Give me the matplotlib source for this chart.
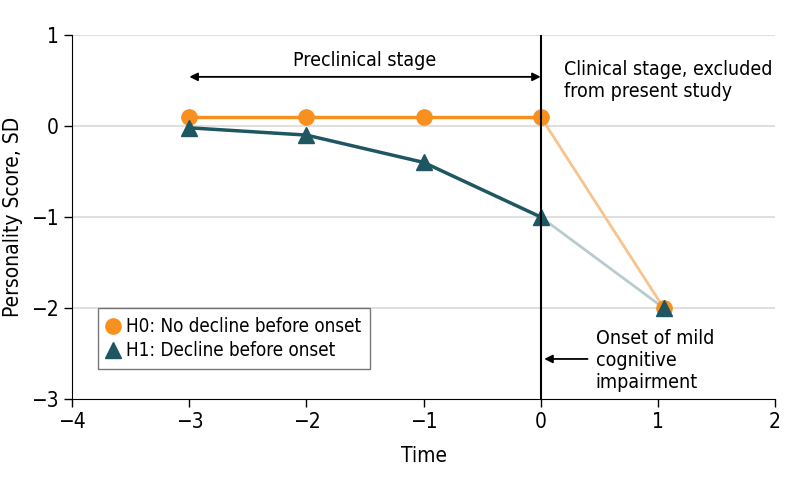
import matplotlib
matplotlib.use('Agg')
from matplotlib import pyplot as plt

plt.rcParams['font.family'] = ['DejaVu Sans']
plt.rcParams['font.stretch'] = 'condensed'

TIME_PRE = [-3, -2, -1, 0]
H0_PRE = [0.1, 0.1, 0.1, 0.1]
H1_PRE = [-0.02, -0.1, -0.4, -1.0]
TIME_POST = [0, 1.05]
H0_POST = [0.1, -2.0]
H1_POST = [-1.0, -2.0]

ORANGE = '#F7901E'
TEAL = '#1E5762'
ORANGE_LT = '#F8C38C'
TEAL_LT = '#B9CBCE'

fig = plt.figure(figsize=(7.94, 4.86), dpi=100)
ax = fig.add_axes([0.091, 0.179, 0.885, 0.749])

for y in [1, 0, -1, -2]:
    ax.axhline(y, color='#d9d9d9', lw=1.2, zorder=0)

ax.plot(TIME_POST, H0_POST, color=ORANGE_LT, lw=2, zorder=2)
ax.plot(TIME_POST, H1_POST, color=TEAL_LT, lw=2, zorder=2)
ax.plot(TIME_POST[1:], H0_POST[1:], 'o', color=ORANGE, ms=11, zorder=3)
ax.plot(TIME_POST[1:], H1_POST[1:], '^', color=TEAL, ms=11, zorder=4)

ax.plot(TIME_PRE, H0_PRE, color=ORANGE, lw=2.5, marker='o', ms=11,
        label='H0: No decline before onset', zorder=3)
ax.plot(TIME_PRE, H1_PRE, color=TEAL, lw=2.5, marker='^', ms=11,
        label='H1: Decline before onset', zorder=4)

ax.axvline(0, color='black', lw=1.5, zorder=5)

ax.annotate('', xy=(-3, 0.54), xytext=(0, 0.54),
            arrowprops=dict(arrowstyle='<|-|>', color='black', lw=1.3,
                            mutation_scale=12, shrinkA=0, shrinkB=0))
ax.text(-1.5, 0.72, 'Preclinical stage', ha='center', va='center', fontsize=14)
ax.text(0.2, 0.5, 'Clinical stage, excluded\nfrom present study',
        ha='left', va='center', fontsize=14, linespacing=1.25)
ax.annotate('', xy=(0.03, -2.56), xytext=(0.4, -2.56),
            arrowprops=dict(arrowstyle='-|>', color='black', lw=1.3,
                            mutation_scale=12, shrinkA=0, shrinkB=0))
ax.text(0.47, -2.58, 'Onset of mild\ncognitive\nimpairment',
        ha='left', va='center', fontsize=14, linespacing=1.2)

leg = ax.legend(loc='upper left', bbox_to_anchor=(0.036, 0.25), fontsize=13.5,
                frameon=True, fancybox=False, edgecolor='#555555',
                handlelength=0.6, handletextpad=0.4, borderpad=0.5,
                labelspacing=0.25, borderaxespad=0)
leg.get_frame().set_linewidth(1.0)
for h in leg.legend_handles:
    h.set_linestyle('none')

ax.set_xlim(-4, 2)
ax.set_ylim(-3, 1)
ax.set_xticks([-4, -3, -2, -1, 0, 1, 2])
ax.set_yticks([-3, -2, -1, 0, 1])
ax.set_xticklabels(['\u22124', '\u22123', '\u22122', '\u22121', '0', '1', '2'])
ax.set_yticklabels(['\u22123', '\u22122', '\u22121', '0', '1'])
ax.tick_params(labelsize=15, length=6, width=1, direction='out')
ax.spines['top'].set_visible(False)
ax.spines['right'].set_visible(False)
ax.set_xlabel('Time', fontsize=15, labelpad=10)
ax.set_ylabel('Personality Score, SD', fontsize=15, labelpad=6)

plt.savefig('out.png', dpi=100)
